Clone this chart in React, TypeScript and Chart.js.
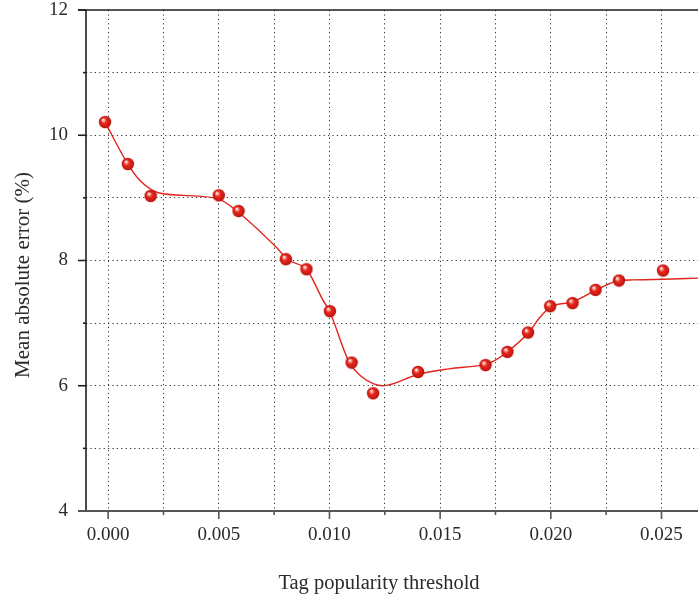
import React, { useEffect, useRef } from 'react';
import { Chart, registerables } from 'chart.js';

Chart.register(...registerables);

// Measured points (tag popularity threshold, mean absolute error %)
const thresholds = [-0.00014, 0.00089, 0.00192, 0.005, 0.00589, 0.00803, 0.00896, 0.01002, 0.011, 0.01197, 0.014, 0.01705, 0.01804, 0.01897, 0.01997, 0.02098, 0.02202, 0.02308, 0.02507];
const maeValues = [10.21, 9.54, 9.03, 9.04, 8.79, 8.02, 7.86, 7.19, 6.37, 5.88, 6.22, 6.33, 6.54, 6.85, 7.27, 7.32, 7.53, 7.68, 7.84];

// Smooth fitted curve
const curveX = [-0.00014, 0.00089, 0.00143, 0.0022, 0.0034, 0.005, 0.0056, 0.0076, 0.0081, 0.009, 0.0097, 0.01, 0.0109, 0.0114, 0.012, 0.0124, 0.014, 0.0154, 0.0171, 0.0175, 0.018, 0.019, 0.0195, 0.02, 0.021, 0.022, 0.0231, 0.0237, 0.0251, 0.0267];
const curveY = [10.21, 9.54, 9.28, 9.09, 9.04, 8.98, 8.85, 8.21, 8.02, 7.84, 7.37, 7.19, 6.37, 6.16, 6.03, 6.0, 6.18, 6.27, 6.35, 6.41, 6.53, 6.85, 7.09, 7.26, 7.34, 7.52, 7.68, 7.69, 7.7, 7.72];

const xGridTicks = [0, 0.0025, 0.005, 0.0075, 0.01, 0.0125, 0.015, 0.0175, 0.02, 0.0225, 0.025];
const xLabelTicks = [0, 0.005, 0.01, 0.015, 0.02, 0.025];
const yGridTicks = [4, 5, 6, 7, 8, 9, 10, 11, 12];
const yLabelTicks = [4, 6, 8, 10, 12];

const X_MIN = -0.001;
const X_MAX = 0.02665;
const Y_MIN = 4;
const Y_MAX = 12;

const xTitle = 'Tag popularity threshold';
const yTitle = 'Mean absolute error (%)';

const SERIF = '"Liberation Serif", "Times New Roman", serif';

function isLabelTick(list: number[], v: number) {
  return list.some((t) => Math.abs(t - v) < 1e-9);
}

function makeSphere(): HTMLCanvasElement {
  const size = 14;
  const c = document.createElement('canvas');
  c.width = size;
  c.height = size;
  const g = c.getContext('2d')!;
  const r = 6.2;
  const cx = size / 2;
  const cy = size / 2;
  const grad = g.createRadialGradient(cx - 2, cy - 2.4, 0.3, cx, cy, r);
  grad.addColorStop(0, '#ffffff');
  grad.addColorStop(0.18, '#f7a19a');
  grad.addColorStop(0.42, '#e8271d');
  grad.addColorStop(0.8, '#cf1a12');
  grad.addColorStop(1, '#a50f0a');
  g.fillStyle = grad;
  g.beginPath();
  g.arc(cx, cy, r, 0, Math.PI * 2);
  g.fill();
  return c;
}

const axesPlugin = {
  id: 'customAxes',
  afterDraw(chart: any) {
    const { ctx, chartArea } = chart;
    const { left, top, right, bottom } = chartArea;
    const xs = chart.scales.x;
    const ys = chart.scales.y;
    ctx.save();
    // left axis
    ctx.strokeStyle = '#1e1e1e';
    ctx.lineWidth = 1.6;
    ctx.beginPath();
    ctx.moveTo(left, top);
    ctx.lineTo(left, bottom);
    ctx.stroke();
    // top frame line
    ctx.beginPath();
    ctx.moveTo(left - 8, top);
    ctx.lineTo(right, top);
    ctx.stroke();
    // y ticks
    yGridTicks.forEach((v) => {
      const py = ys.getPixelForValue(v);
      const len = isLabelTick(yLabelTicks, v) ? 8 : 3;
      ctx.beginPath();
      ctx.moveTo(left - len, py);
      ctx.lineTo(left, py);
      ctx.stroke();
    });
    // bottom axis
    ctx.strokeStyle = '#555555';
    ctx.lineWidth = 2;
    ctx.beginPath();
    ctx.moveTo(left - 8, bottom);
    ctx.lineTo(right, bottom);
    ctx.stroke();
    ctx.lineWidth = 1.6;
    xGridTicks.forEach((v) => {
      const px = xs.getPixelForValue(v);
      const len = isLabelTick(xLabelTicks, v) ? 8 : 4;
      ctx.beginPath();
      ctx.moveTo(px, bottom);
      ctx.lineTo(px, bottom + len);
      ctx.stroke();
    });
    // titles
    ctx.fillStyle = '#2a2a2a';
    ctx.textAlign = 'center';
    ctx.textBaseline = 'alphabetic';
    ctx.font = `20.5px ${SERIF}`;
    ctx.fillText(xTitle, 379, 589);
    ctx.font = `21px ${SERIF}`;
    ctx.translate(29, 275);
    ctx.rotate(-Math.PI / 2);
    ctx.fillText(yTitle, 0, 0);
    ctx.restore();
  },
};

export default function App() {
  const canvasRef = useRef<HTMLCanvasElement | null>(null);

  useEffect(() => {
    if (!canvasRef.current) return;
    const sphere = makeSphere();
    const chart = new Chart(canvasRef.current, {
      type: 'scatter',
      data: {
        datasets: [
          {
            label: 'MAE',
            data: thresholds.map((x, i) => ({ x, y: maeValues[i] })),
            pointStyle: sphere as any,
            pointRadius: 7,
            pointHoverRadius: 7,
            showLine: false,
          },
          {
            label: 'Fit',
            data: curveX.map((x, i) => ({ x, y: curveY[i] })),
            showLine: true,
            borderColor: '#e0261c',
            borderWidth: 1.4,
            pointRadius: 0,
            pointHoverRadius: 0,
            cubicInterpolationMode: 'monotone',
            fill: false,
          },
        ],
      },
      options: {
        animation: false,
        responsive: false,
        layout: { autoPadding: false, padding: { top: 10, right: 0, left: 0, bottom: 0 } },
        plugins: {
          legend: { display: false },
          tooltip: { enabled: false },
        },
        scales: {
          x: {
            type: 'linear',
            min: X_MIN,
            max: X_MAX,
            afterBuildTicks: (s: any) => {
              s.ticks = xGridTicks.map((v) => ({ value: v }));
            },
            afterFit: (s: any) => {
              s.height = 90;
              s.paddingLeft = 0;
              s.paddingRight = 0;
            },
            ticks: {
              autoSkip: false,
              maxRotation: 0,
              padding: 13,
              color: '#2a2a2a',
              font: { family: SERIF, size: 19 },
              callback: (v: any) => (isLabelTick(xLabelTicks, Number(v)) ? Number(v).toFixed(3) : ''),
            },
            grid: {
              color: '#333333',
              lineWidth: 1,
              drawTicks: false,
            },
            border: { display: false, dash: [1.2, 3.2] },
          },
          y: {
            type: 'linear',
            min: Y_MIN,
            max: Y_MAX,
            afterBuildTicks: (s: any) => {
              s.ticks = yGridTicks.map((v) => ({ value: v }));
            },
            afterFit: (s: any) => {
              s.width = 86;
              s.paddingTop = 0;
              s.paddingBottom = 0;
            },
            ticks: {
              autoSkip: false,
              padding: 18,
              color: '#2a2a2a',
              font: { family: SERIF, size: 19, lineHeight: 1 },
              callback: (v: any) => (isLabelTick(yLabelTicks, Number(v)) ? String(v) : ''),
            },
            grid: {
              color: (c: any) => {
                const v = c.tick ? c.tick.value : null;
                return v === Y_MIN || v === Y_MAX ? 'rgba(0,0,0,0)' : '#333333';
              },
              lineWidth: 1,
              drawTicks: false,
            },
            border: { display: false, dash: [1.2, 3.2] },
          },
        },
      },
      plugins: [axesPlugin],
    });
    return () => chart.destroy();
  }, []);

  return (
    <div style={{ position: 'absolute', left: 0, top: 0, width: 698, height: 601, background: '#fff' }}>
      <canvas ref={canvasRef} width={698} height={601} style={{ display: 'block' }} />
    </div>
  );
}
